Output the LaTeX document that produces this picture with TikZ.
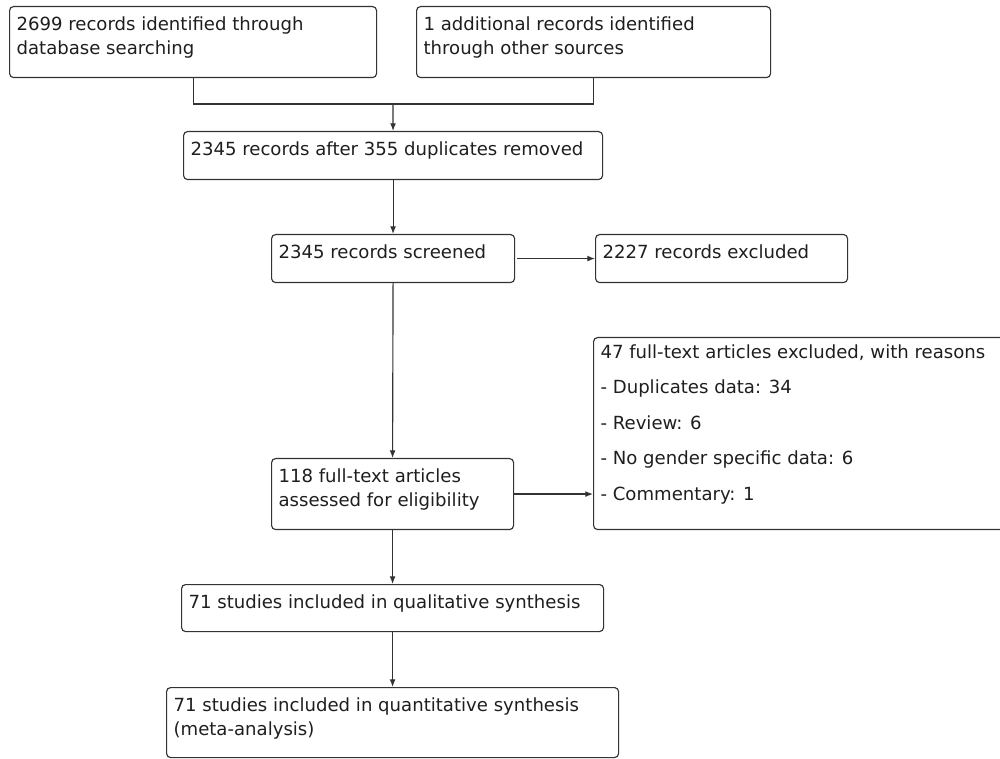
\documentclass[tikz,border=0pt]{standalone}
\usepackage{fontspec}
\setmainfont{DejaVu Sans}
\usetikzlibrary{arrows.meta}

\newlength{\pxu}
\setlength{\pxu}{0.02cm}
% text block of a box: [top gap]{width}{height}{text}
\newcommand{\boxtext}[4][4.2pt]{\parbox[c][#3\pxu][t]{#2\pxu}{\raggedright\vspace*{#1}\strut#4}}

\definecolor{linegray}{HTML}{333333}
\definecolor{textgray}{HTML}{1E1E1E}

\begin{document}
\begin{tikzpicture}[x=0.02cm,y=-0.02cm,
    flowbox/.style={draw=linegray, line width=0.65pt, rounded corners=2.3pt,
      anchor=north west, inner ysep=0pt, inner xsep=7\pxu, text=textgray,
      font=\fontsize{10.3}{13.7}\selectfont},
    flowline/.style={draw=linegray, line width=0.65pt},
    flowarrow/.style={flowline, -{Latex[length=4.4pt,width=3.4pt]}}]

  \useasboundingbox (0,0) rectangle (1000,759);

  \node[flowbox] (ident)   at (9,6)     {\boxtext{353}{71}{2699 records identified through\\database searching}};
  \node[flowbox] (other)   at (416,6)   {\boxtext{340}{71}{1 additional records identified\\through other sources}};
  \node[flowbox] (dedup)   at (183,131) {\boxtext{405}{48}{2345 records after 355 duplicates removed}};
  \node[flowbox] (screen)  at (271,234) {\boxtext{229}{48}{2345 records screened}};
  \node[flowbox] (excl)    at (595,234) {\boxtext{238}{48}{2227 records excluded}};
  \node[flowbox] (full)    at (271,458) {\boxtext{228}{71}{118 full-text articles\\assessed for eligibility}};
  \node[flowbox] (reasons) at (593,337) {\boxtext[2.3pt]{403}{192}{47 full-text articles excluded, with reasons\\[6.5pt]
      - Duplicates data: 34\\[6.5pt]
      - Review: 6\\[6.5pt]
      - No gender specific data: 6\\[6.5pt]
      - Commentary: 1}};
  \node[flowbox] (qual)    at (181,584) {\boxtext{408}{47}{71 studies included in qualitative synthesis}};
  \node[flowbox] (quant)   at (166,687) {\boxtext{438}{70}{71 studies included in quantitative synthesis\\(meta-analysis)}};

  \coordinate (join) at (393,104);

  \draw[flowline] (ident.south) |- (join) -| (other.south);
  \draw[flowarrow] (join) -- (dedup.north);
  \draw[flowarrow] (dedup.south) -- (screen.north);
  \draw[flowarrow, shorten <=1pt] (screen.east) -- (excl.west);
  \draw[flowarrow] (screen.south) -- (full.north);
  \draw[flowarrow] (full.east) -- (full.east -| reasons.west);
  \draw[flowarrow] (full.south) -- (qual.north);
  \draw[flowarrow] (qual.south) -- (quant.north);

\end{tikzpicture}
\end{document}
